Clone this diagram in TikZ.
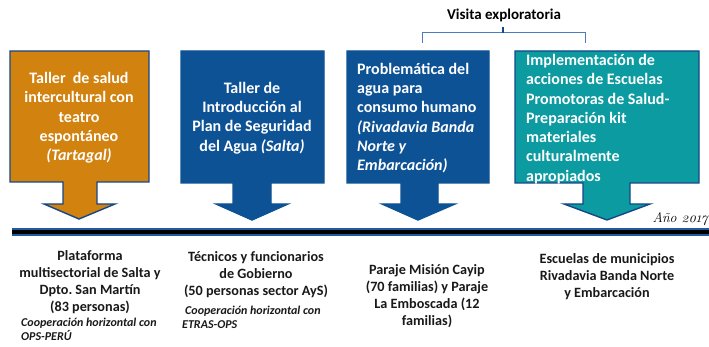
\documentclass[tikz,border=0pt]{standalone}
\usepackage{fontspec}
\setmainfont{Carlito}
\newfontfamily\yearfont{Latin Modern Roman}
\definecolor{cOrange}{RGB}{210,130,14}
\definecolor{cBlue}{RGB}{14,82,150}
\definecolor{cTeal}{RGB}{12,155,160}
\definecolor{cEdge}{RGB}{22,72,135}
\definecolor{cBracket}{RGB}{74,126,187}
\definecolor{cLine}{RGB}{30,92,160}
\begin{document}
\begin{tikzpicture}[x=1pt,y=-1pt,
  callout/.style={draw=cEdge,line width=1.4pt,line join=miter},
  boxtext/.style={text=white,font=\fontsize{16}{19.3}\selectfont\bfseries,inner sep=0pt},
  lowtext/.style={text=black!90,font=\fontsize{14.2}{17}\selectfont\bfseries,inner sep=0pt,align=center},
  notetext/.style={text=black!90,font=\fontsize{12}{13.5}\selectfont\bfseries\itshape,inner sep=0pt,align=left,anchor=west}]
\useasboundingbox (0,0) rectangle (709,347);
\fill[white] (0,0) rectangle (709,347);
% callout shapes
\draw[callout,fill=cOrange] (10,51) -- (149,51) -- (149,182) -- (97,182) -- (97,204) -- (115,204) -- (79,219) -- (44,204) -- (63,204) -- (63,182) -- (10,182) -- cycle;
\draw[callout,fill=cBlue,draw=cBlue] (181,51) -- (324,51) -- (324,183) -- (271,183) -- (271,204) -- (288,204) -- (252,220) -- (216,204) -- (233,204) -- (233,183) -- (181,183) -- cycle;
\draw[callout,fill=cBlue,draw=cBlue] (347,51) -- (489,51) -- (489,183) -- (438,183) -- (438,204) -- (455,204) -- (418,220) -- (382,204) -- (401,204) -- (401,183) -- (347,183) -- cycle;
\draw[callout,fill=cTeal] (515,51) -- (699,51) -- (699,183) -- (630,183) -- (630,204) -- (650,204) -- (607,220) -- (564,204) -- (583,204) -- (583,183) -- (515,183) -- cycle;
% timeline
\coordinate (tl) at (12,232);
\coordinate (tr) at (709,232);
\draw[cLine,line width=8pt] (tl) -- (tr);
\draw[black,line width=3.5pt] (tl) -- (tr);
% box texts
\node[boxtext,align=center] (b1) at (79,118) {Taller\ \ de salud\\intercultural con\\teatro\\espontáneo\\\textit{(Tartagal)}};
\node[boxtext,align=center] (b2) at (252,118) {Taller de\\Introducción al\\Plan de Seguridad\\del Agua \textit{(Salta)}};
\node[boxtext,align=left,anchor=west] (b3) at (357,118) {Problemática del\\agua para\\consumo humano\\\textit{(Rivadavia Banda}\\\textit{Norte y}\\\textit{Embarcación)}};
\node[boxtext,align=left,anchor=west] (b4) at (526,119) {Implementación de\\acciones de Escuelas\\Promotoras de Salud-\\Preparación kit\\materiales\\culturalmente\\apropiados};
% bracket
\node[font=\fontsize{15}{17}\selectfont\bfseries,text=black,inner sep=0pt] (visita) at (504,15) {Visita exploratoria};
\coordinate (bl) at (422,43);
\coordinate (br) at (585,43);
\coordinate (bm) at (503,27);
\draw[cBracket,line width=1pt] (bl) -- (422,33) -- (585,33) -- (br);
\draw[cEdge,line width=1.5pt] (503,33) -- (bm);
% year
\node[font=\fontsize{14}{16}\selectfont\yearfont\itshape,anchor=east,inner sep=0pt] (year) at (708,219) {Año \oldstylenums{2017}};
% lower texts
\node[lowtext] (l1) at (90,282.5) {Plataforma\\multisectorial de Salta y\\Dpto.\ San Martín\\(83 personas)};
\node[notetext] (n1) at (21,329.5) {Cooperación horizontal con\\OPS-PERÚ};
\node[lowtext] (l2) at (256,274.5) {Técnicos y funcionarios\\de Gobierno\\(50 personas sector AyS)};
\node[notetext] (n2) at (182,317.5) {\hspace{3pt}Cooperación horizontal con\\ETRAS-OPS};
\node[lowtext] (l3) at (427,296.5) {Paraje Misión Cayip\\(70 familias) y Paraje\\La Emboscada (12\\familias)};
\node[lowtext] (l4) at (607,276.5) {Escuelas de municipios\\Rivadavia Banda Norte\\y Embarcación};
\end{tikzpicture}
\end{document}
